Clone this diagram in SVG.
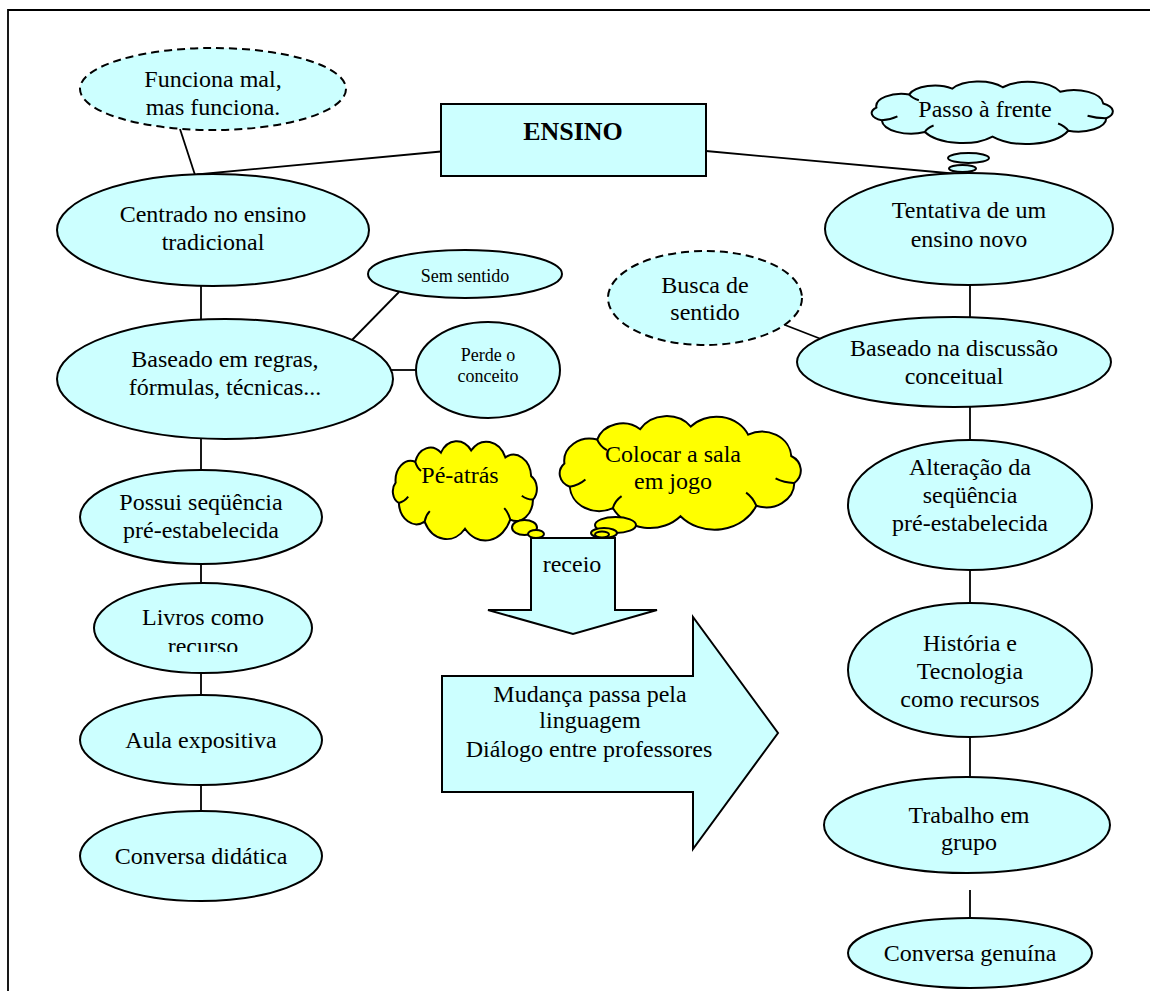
<svg xmlns="http://www.w3.org/2000/svg" width="1150" height="991" viewBox="0 0 1150 991">
  <style>
    text { font-family: "Liberation Serif", "Times New Roman", serif; font-size: 24px; fill: #000; text-anchor: middle; }
    .small { font-size: 18px; }
    .bold { font-weight: bold; font-size: 26px; }
    .node { fill: #CCFFFF; stroke: #000; stroke-width: 2; }
    .dashed { fill: #CCFFFF; stroke: #000; stroke-width: 2; stroke-dasharray: 8 5; }
    .yellow { fill: #FFFF00; stroke: #000; stroke-width: 2; }
    .cloud { stroke: #000; stroke-width: 2; vector-effect: non-scaling-stroke; }
    .crease { fill: none; stroke: #000; stroke-width: 2; vector-effect: non-scaling-stroke; }
    .link { stroke: #000; stroke-width: 1.8; fill: none; }
  </style>
  <defs>
    <clipPath id="clip-livros">
      <rect x="80" y="560" width="260" height="92"/>
    </clipPath>
  </defs>

  <rect width="1150" height="991" fill="#fff"/>
  <!-- page frame -->
  <path d="M8,991 V10 H1150" fill="none" stroke="#000" stroke-width="1.8"/>

  <!-- connectors -->
  <g id="connectors">
    <line class="link" x1="441" y1="151.5" x2="197" y2="174.5"/>
    <line class="link" x1="706" y1="151" x2="958" y2="174"/>
    <line class="link" x1="180" y1="129" x2="195" y2="175"/>
    <line class="link" x1="201" y1="286" x2="201" y2="320"/>
    <line class="link" x1="399" y1="292" x2="352" y2="340"/>
    <line class="link" x1="391" y1="370" x2="416" y2="370"/>
    <line class="link" x1="201" y1="438" x2="201" y2="470"/>
    <line class="link" x1="201" y1="564" x2="201" y2="584"/>
    <line class="link" x1="201" y1="673" x2="201" y2="695"/>
    <line class="link" x1="201" y1="785" x2="201" y2="811"/>
    <line class="link" x1="785" y1="325" x2="821" y2="339"/>
    <line class="link" x1="970" y1="285" x2="970" y2="317"/>
    <line class="link" x1="970" y1="407" x2="970" y2="440"/>
    <line class="link" x1="970" y1="570" x2="970" y2="603"/>
    <line class="link" x1="970" y1="737" x2="970" y2="777"/>
    <line class="link" x1="970" y1="890" x2="970" y2="918"/>
  </g>

  <!-- left column -->
  <g id="funciona-mal">
    <ellipse class="dashed" cx="213" cy="89" rx="133" ry="41"/>
    <text x="213" y="87">Funciona mal,</text>
    <text x="213" y="115">mas funciona.</text>
  </g>
  <g id="ensino">
    <rect class="node" x="441" y="104" width="265" height="72"/>
    <text class="bold" x="573" y="140">ENSINO</text>
  </g>
  <g id="centrado">
    <ellipse class="node" cx="213" cy="230" rx="156" ry="56"/>
    <text x="213" y="222">Centrado no ensino</text>
    <text x="213" y="250">tradicional</text>
  </g>
  <g id="sem-sentido">
    <ellipse class="node" cx="465" cy="274" rx="97" ry="24"/>
    <text class="small" x="465" y="282">Sem sentido</text>
  </g>
  <g id="perde-conceito">
    <ellipse class="node" cx="488" cy="370" rx="72" ry="48"/>
    <text class="small" x="488" y="361">Perde o</text>
    <text class="small" x="488" y="382">conceito</text>
  </g>
  <g id="baseado-regras">
    <ellipse class="node" cx="225" cy="379" rx="168" ry="60"/>
    <text x="225" y="367">Baseado em regras,</text>
    <text x="225" y="395">fórmulas, técnicas...</text>
  </g>
  <g id="sequencia">
    <ellipse class="node" cx="201" cy="517" rx="121" ry="47"/>
    <text x="201" y="510">Possui seqüência</text>
    <text x="201" y="538">pré-estabelecida</text>
  </g>
  <g id="livros">
    <ellipse class="node" cx="203" cy="628" rx="109" ry="45"/>
    <g clip-path="url(#clip-livros)">
      <text x="203" y="625">Livros como</text>
      <text x="203" y="654">recurso</text>
    </g>
  </g>
  <g id="aula">
    <ellipse class="node" cx="201" cy="740" rx="121" ry="45"/>
    <text x="201" y="748">Aula expositiva</text>
  </g>
  <g id="conversa-didatica">
    <ellipse class="node" cx="201" cy="856" rx="121" ry="45"/>
    <text x="201" y="864">Conversa didática</text>
  </g>

  <!-- right column -->
  <g id="passo-frente">
    <g transform="translate(858.6,79.4) scale(1.339,0.649)">
      <path class="cloud" fill="#CCFFFF" d="M13.3,43.4 A19,19 0 0 1 37.8,23.1 A20,20 0 0 1 69.9,14.3 A23,23 0 0 1 107.7,12.1 A26,26 0 0 1 150.5,18.9 A22,22 0 0 1 182.7,37 A14,14 0 0 1 185,59.8 A21,21 0 0 1 156.6,79.1 A34,34 0 0 1 100,88 A31,31 0 0 1 49.5,81.1 A22,22 0 0 1 17.3,63 A12,12 0 0 1 13.3,43.4 Z"/>
      <path class="crease" d="M17.3,63 Q24,62 29,57 M185,59.8 Q178,60 171,56 M156.6,79.1 Q154,72 149,68 M49.5,81.1 Q51,75 56,71 M37.8,23.1 Q40,29 45,32"/>
    </g>
    <ellipse class="node" cx="968.5" cy="158" rx="20.5" ry="5"/>
    <ellipse class="node" cx="962.5" cy="168.5" rx="13.5" ry="3.5"/>
    <text x="985" y="117">Passo à frente</text>
  </g>
  <g id="tentativa">
    <ellipse class="node" cx="969" cy="229" rx="144" ry="56"/>
    <text x="969" y="218">Tentativa de um</text>
    <text x="969" y="247">ensino novo</text>
  </g>
  <g id="busca-sentido">
    <ellipse class="dashed" cx="705" cy="298" rx="97" ry="47"/>
    <text x="705" y="293">Busca de</text>
    <text x="705" y="320">sentido</text>
  </g>
  <g id="discussao">
    <ellipse class="node" cx="954" cy="362" rx="157" ry="45"/>
    <text x="954" y="356">Baseado na discussão</text>
    <text x="954" y="384">conceitual</text>
  </g>
  <g id="alteracao">
    <ellipse class="node" cx="970" cy="505" rx="122" ry="65"/>
    <text x="970" y="475">Alteração da</text>
    <text x="970" y="503">seqüência</text>
    <text x="970" y="531">pré-estabelecida</text>
  </g>
  <g id="historia">
    <ellipse class="node" cx="970" cy="670" rx="122" ry="67"/>
    <text x="970" y="651">História e</text>
    <text x="970" y="679">Tecnologia</text>
    <text x="970" y="707">como recursos</text>
  </g>
  <g id="trabalho">
    <ellipse class="node" cx="967" cy="825" rx="143" ry="48"/>
    <text x="969" y="823">Trabalho em</text>
    <text x="969" y="850">grupo</text>
  </g>
  <g id="conversa-genuina">
    <ellipse class="node" cx="970" cy="953" rx="122" ry="35"/>
    <text x="970" y="961">Conversa genuína</text>
  </g>

  <!-- centre: fear and change -->
  <g id="receio">
    <polygon class="node" points="531,538 615,538 615,610 657,610 573,634 488,610 531,610"/>
    <text x="572" y="572">receio</text>
  </g>
  <g id="pe-atras">
    <g transform="translate(385,437.9) scale(0.8,1.032)">
      <path class="cloud" fill="#FFFF00" d="M13.3,43.4 A19,19 0 0 1 37.8,23.1 A20,20 0 0 1 69.9,14.3 A23,23 0 0 1 107.7,12.1 A26,26 0 0 1 150.5,18.9 A22,22 0 0 1 182.7,37 A14,14 0 0 1 185,59.8 A21,21 0 0 1 156.6,79.1 A34,34 0 0 1 100,88 A31,31 0 0 1 49.5,81.1 A22,22 0 0 1 17.3,63 A12,12 0 0 1 13.3,43.4 Z"/>
      <path class="crease" d="M17.3,63 Q24,62 29,57 M185,59.8 Q178,60 171,56 M156.6,79.1 Q154,72 149,68 M49.5,81.1 Q51,75 56,71 M37.8,23.1 Q40,29 45,32"/>
    </g>
    <ellipse class="yellow" cx="524.5" cy="527.5" rx="12.5" ry="7.5"/>
    <ellipse class="yellow" cx="536" cy="534" rx="8" ry="4"/>
    <text x="460" y="483">Pé-atrás</text>
  </g>
  <g id="colocar-sala">
    <g transform="translate(546.6,412.3) scale(1.339,1.181)">
      <path class="cloud" fill="#FFFF00" d="M13.3,43.4 A19,19 0 0 1 37.8,23.1 A20,20 0 0 1 69.9,14.3 A23,23 0 0 1 107.7,12.1 A26,26 0 0 1 150.5,18.9 A22,22 0 0 1 182.7,37 A14,14 0 0 1 185,59.8 A21,21 0 0 1 156.6,79.1 A34,34 0 0 1 100,88 A31,31 0 0 1 49.5,81.1 A22,22 0 0 1 17.3,63 A12,12 0 0 1 13.3,43.4 Z"/>
      <path class="crease" d="M17.3,63 Q24,62 29,57 M185,59.8 Q178,60 171,56 M156.6,79.1 Q154,72 149,68 M49.5,81.1 Q51,75 56,71 M37.8,23.1 Q40,29 45,32"/>
    </g>
    <ellipse class="yellow" cx="615.5" cy="525" rx="20.5" ry="8"/>
    <ellipse class="yellow" cx="604" cy="533" rx="13" ry="5"/>
    <ellipse class="yellow" cx="602" cy="534.5" rx="7" ry="3"/>
    <text x="673" y="462">Colocar a sala</text>
    <text x="673" y="489">em jogo</text>
  </g>
  <g id="mudanca">
    <polygon class="node" points="442,676 693,676 693,617 778,733 693,849 693,792 442,792"/>
    <text x="590" y="702">Mudança passa pela</text>
    <text x="590" y="728">linguagem</text>
    <text x="589" y="757">Diálogo entre professores</text>
  </g>
</svg>
